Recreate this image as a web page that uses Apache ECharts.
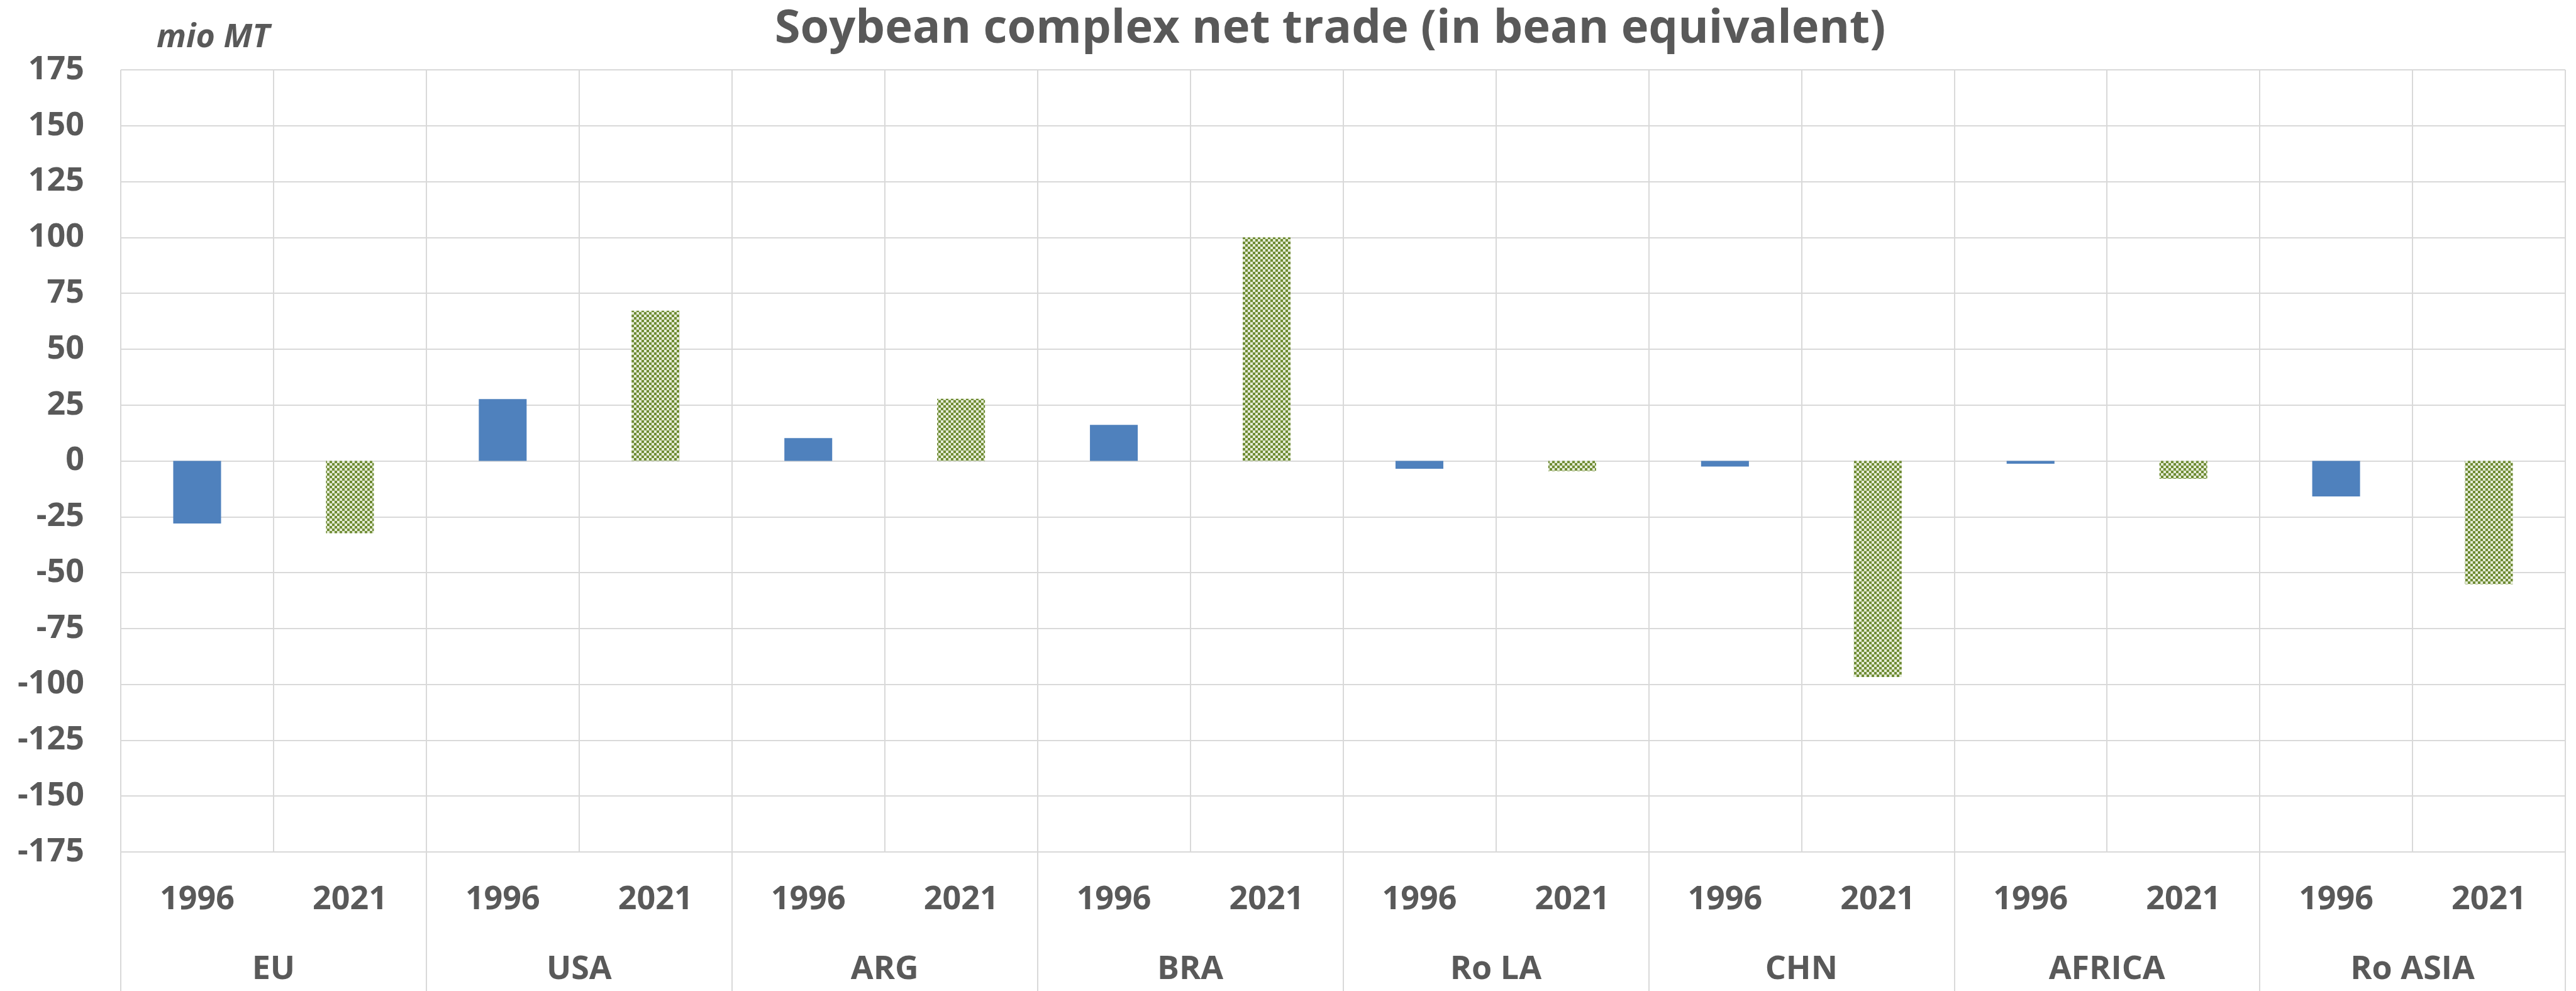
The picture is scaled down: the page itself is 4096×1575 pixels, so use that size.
<!DOCTYPE html>
<html>
<head>
<meta charset="utf-8">
<script src="https://cdn.jsdelivr.net/npm/echarts@6/dist/echarts.min.js"></script>
<style>
  html, body { margin: 0; padding: 0; background: #fff; }
  #chart { width: 4096px; height: 1575px; }
</style>
</head>
<body>
<div id="chart"></div>
<script>
// data (mio MT, bean equivalent)
const regions = ["EU", "USA", "ARG", "BRA", "Ro LA", "CHN", "AFRICA", "Ro ASIA"];
const years = ["1996", "2021"];
const net1996 = [-28.0, 27.7, 10.2, 16.1, -3.5, -2.5, -1.3, -15.9];
const net2021 = [-32.4, 67.2, 27.8, 100.0, -4.6, -96.7, -8.0, -55.2];

const TEXT = "#595959";
const GRID = "#D9D9D9";
const FONT = "'Open Sans', 'Liberation Sans', sans-serif";

// leaf categories: region|year
const leafKeys = [];
regions.forEach(r => years.forEach(y => leafKeys.push(r + "|" + y)));
const leaf1996 = leafKeys.map((k, i) => (i % 2 === 0 ? net1996[i >> 1] : null));
const leaf2021 = leafKeys.map((k, i) => (i % 2 === 1 ? net2021[i >> 1] : null));

// small checkerboard fill like the excel pattern
const makeChecker = (fg, bg, cell) => {
  const c = document.createElement("canvas");
  c.width = cell * 2;
  c.height = cell * 2;
  const ctx = c.getContext("2d");
  ctx.fillStyle = bg;
  ctx.fillRect(0, 0, c.width, c.height);
  ctx.fillStyle = fg;
  ctx.fillRect(0, 0, cell, cell);
  ctx.fillRect(cell, cell, cell, cell);
  return c;
};
const checker = makeChecker("#6F8C34", "#E4EBD6", 4);

const chart = echarts.init(document.getElementById("chart"));
chart.setOption({
  backgroundColor: "#fff",
  animation: false,
  grid: { left: 192, right: 17, top: 111, bottom: 221, containLabel: false },
  graphic: [
    {
      type: "text",
      x: 2115,
      y: 47,
      style: {
        text: "Soybean complex net trade (in bean equivalent)",
        fontSize: 74,
        fontWeight: "bold",
        fontFamily: FONT,
        fill: TEXT,
        align: "center",
        verticalAlign: "middle",
      },
    },
    {
      type: "text",
      x: 249,
      y: 60,
      style: {
        text: "mio MT",
        fontSize: 52,
        fontWeight: "bold",
        fontStyle: "italic",
        fontFamily: FONT,
        fill: TEXT,
        align: "left",
        verticalAlign: "middle",
      },
    },
  ],
  xAxis: [
    {
      type: "category",
      data: leafKeys,
      position: "bottom",
      offset: 0,
      axisLine: { show: false },
      axisTick: { show: false },
      splitLine: { show: true, interval: 0, lineStyle: { color: GRID, width: 2 } },
      axisLabel: {
        interval: 0,
        margin: 76,
        verticalAlign: "middle",
        fontSize: 52,
        fontWeight: "bold",
        fontFamily: FONT,
        color: TEXT,
        formatter: (v) => v.split("|")[1],
      },
    },
    {
      type: "category",
      data: regions,
      position: "bottom",
      offset: 0,
      axisLine: { show: false },
      axisTick: { show: true, interval: 0, length: 221, lineStyle: { color: GRID, width: 2 } },
      splitLine: { show: false },
      axisLabel: {
        interval: 0,
        margin: 187,
        verticalAlign: "middle",
        fontSize: 52,
        fontWeight: "bold",
        fontFamily: FONT,
        color: TEXT,
      },
    },
  ],
  yAxis: {
    type: "value",
    min: -175,
    max: 175,
    interval: 25,
    axisLine: { show: false },
    axisTick: { show: false },
    splitLine: { show: true, lineStyle: { color: GRID, width: 2 } },
    axisLabel: {
      margin: 58,
      fontSize: 52,
      fontWeight: "bold",
      fontFamily: FONT,
      color: TEXT,
    },
  },
  series: [
    {
      name: "1996",
      type: "bar",
      xAxisIndex: 0,
      data: leaf1996,
      barWidth: "31.3%",
      barGap: "-100%",
      itemStyle: { color: "#4F81BD" },
    },
    {
      name: "2021",
      type: "bar",
      xAxisIndex: 0,
      data: leaf2021,
      barWidth: "31.3%",
      barGap: "-100%",
      itemStyle: { color: { image: checker, repeat: "repeat" } },
    },
  ],
});
</script>
</body>
</html>
